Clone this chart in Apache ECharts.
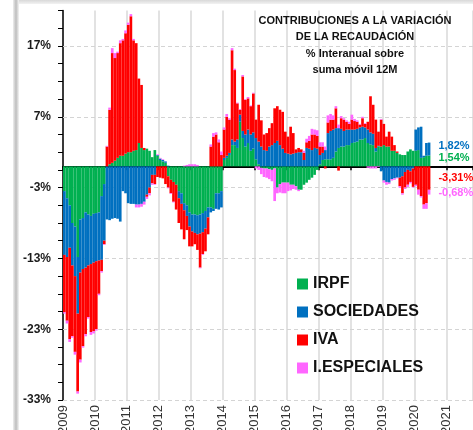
<!DOCTYPE html>
<html>
<head>
<meta charset="utf-8">
<title>Contribuciones a la variación de la recaudación</title>
<script src="https://cdn.jsdelivr.net/npm/echarts@6/dist/echarts.min.js"></script>
</head>
<body style="margin:0;padding:0;background:#fff;">
<div id="main" style="width:473px;height:430px;"></div>
<script>
// meses 2009-01 ... 2021-10 (el eje llega un poco más allá de 2021)
var months = [];
for (var y = 2009; y <= 2021; y++) {
    for (var m = 1; m <= 12; m++) months.push(y + '-' + (m < 10 ? '0' : '') + m);
}
months = months.slice(0, 154);

var names = ['IRPF', 'SOCIEDADES', 'IVA', 'I.ESPECIALES'];
var colors = ['#00B050', '#0070C0', '#FF0000', '#FF66FF'];
var yGrid = [-33, -23, -13, -3, 7, 17];

// contribuciones en puntos porcentuales, enero 2009 - junio 2020
var irpf = [
    -3.5, -4.5, -5.5, -8.0, -8.5, -12.8, -7.5, -7.3, -6.5, -6.8, -7.0, -6.7,
    -6.6, -6.5, -4.2, -2.5, 0.0, 0.3, 0.5, 0.8, 1.2, 1.5, 1.5, 1.8,
    2.0, 2.0, 2.2, 2.3, 3.3, 2.6, 2.3, 2.5, 2.2, 1.3, 2.3, 1.5,
    0.9, 0.7, 0.5, -1.4, -1.9, -2.2, -2.6, -3.5, -3.8, -5.2, -5.5, -6.5,
    -6.8, -6.8, -6.9, -6.8, -6.6, -6.3, -5.8, -5.8, -6.0, -3.8, -3.8, -3.5,
    0.9, 1.2, 1.6, 3.0, 3.0, 2.6, 6.3, 4.0, 2.8, 3.3, 2.2, 2.5,
    1.0, 0.3, -0.2, -0.3, -0.3, -0.4, -0.5, -0.3, -3.0, -2.5, -2.3, -2.3,
    -2.3, -2.6, -2.6, -2.8, -3.3, -3.3, -2.6, -2.3, -1.9, -1.6, -1.2, -0.5,
    0.3, 0.9, 1.0, 1.0, 1.0, 1.2, 2.1, 2.6, 2.8, 2.8, 3.0, 3.0,
    3.3, 3.4, 3.5, 3.8, 3.8, 4.0, 3.3, 3.1, 3.0, 2.1, 2.8, 2.8,
    3.0, 2.8, 2.8, 2.2, 2.2, 1.9, 1.7, 1.6, 1.6, 2.1, 2.4, 2.2,
    2.2, 2.3, 1.2, 1.3, 1.5, 1.54
];
var sociedades = [
    -9.0, -8.3, -6.0, -6.0, -7.0, -8.0, -7.5, -7.2, -7.8, -7.2, -6.8, -6.9,
    -6.8, -6.8, -9.0, -8.0, -7.5, -7.6, -7.4, -7.3, -7.4, -7.8, -3.5, -3.8,
    -5.2, -5.3, -5.3, -5.4, -5.4, -5.3, -5.0, -4.0, -3.0, -1.2, -1.2, 0.1,
    0.2, 0.2, 0.2, 0.1, 0.0, 0.0, 0.0, -1.0, -1.5, -1.0, -1.5, -2.0,
    -2.4, -2.6, -2.7, -2.7, -2.7, -2.5, -1.4, -0.7, -0.3, -2.2, -2.3, -2.3,
    0.3, 0.3, 0.3, 0.8, 0.5, 1.2, 1.0, 1.0, 1.7, 1.9, 2.3, 2.3,
    3.0, 3.2, 2.8, 2.3, 2.2, 2.8, 3.0, 3.3, 3.6, 3.0, 2.5, 1.9,
    1.8, 1.7, 1.8, 1.9, 2.0, 2.0, 0.9, 2.6, 2.5, 2.3, 2.6, 2.5,
    1.3, 1.0, 1.3, 3.7, 4.0, 4.0, 3.3, 2.8, 2.5, 2.2, 2.2, 2.2,
    1.9, 1.8, 1.8, 1.7, 1.8, 1.5, 1.9, 1.7, 1.6, 0.5, 0.1, -0.7,
    -2.0, -2.2, -2.3, -1.8, -1.7, -1.6, -1.6, -1.4, -0.8, -0.5, -0.7, -0.3,
    3.0, 3.2, 4.4, 0.2, 1.8, 1.82
];
var iva = [
    -8.1, -9.0, -12.9, -10.0, -10.7, -11.0, -12.3, -10.9, -9.4, -7.3, -9.6, -9.7,
    -9.6, -4.7, -1.6, -0.5, 2.8, 7.7, 15.5, 14.5, 14.8, 15.9, 16.3, 17.0,
    18.0, 19.2, 15.6, 15.1, 9.1, 8.9, 0.3, -0.3, -0.8, -1.2, -1.3, -1.5,
    -1.6, -1.7, -2.5, -1.6, -1.9, -2.8, -3.5, -3.5, -3.6, -4.1, -2.0, -2.8,
    -2.1, -1.6, -2.2, -4.8, -3.1, -3.2, -2.4, 2.8, 4.2, 4.5, 3.4, 1.6,
    4.0, 5.5, 4.7, 12.6, 10.1, 5.1, 0.7, 7.7, 4.9, 4.4, 4.0, 5.5,
    2.6, 5.2, 3.7, 2.2, 2.5, 2.6, 3.1, 4.9, 4.9, 5.0, 5.2, 3.0,
    2.4, 3.9, 2.9, 0.5, 0.6, 0.4, 1.0, 0.8, 1.1, 2.2, 1.9, 1.8,
    1.2, 0.9, -0.3, 1.5, 1.6, 1.4, 2.8, -0.6, 1.5, 1.6, 1.1, 0.8,
    1.4, 1.2, 1.0, 0.4, 1.2, 0.5, 1.1, 5.1, 4.1, 4.0, 2.0, 3.8,
    3.0, 1.4, 2.1, 2.0, 0.8, 0.2, -1.2, -2.4, -2.2, -2.1, -1.5, -2.6,
    -2.6, -3.3, -4.2, -5.4, -5.2, -3.31
];
var especiales = [
    -0.2, -0.4, -0.4, -0.2, -0.4, -0.3, -0.4, -0.2, -0.3, -0.2, -0.4, -0.3,
    -0.2, -0.2, -0.2, -0.1, 0.1, 0.3, 0.7, 0.7, 0.2, 0.4, 0.2, 0.4,
    0.3, 0.3, 0.2, -0.4, -0.4, -0.4, -0.4, -0.3, -0.3, -0.2, -0.1, 0.1,
    0.1, 0.1, 0.0, -0.1, -0.1, -0.1, 0.0, 0.0, 0.0, 0.1, 0.2, 0.3,
    0.3, 0.3, 0.2, -0.1, -0.1, 0.0, 0.0, 0.3, 0.5, 0.3, 0.4, 0.5,
    0.3, 0.4, 0.2, 0.3, 0.2, 0.1, 0.1, 0.2, 0.1, 0.2, 0.1, 0.1,
    -0.3, -0.5, -0.9, -1.2, -1.3, -1.4, -1.6, -4.6, -0.8, -1.2, -1.5, -1.5,
    -1.2, -0.8, -0.6, -0.5, -0.2, 0.0, 0.3, 0.5, 0.7, 0.8, 0.7, 0.8,
    0.6, 0.6, 0.5, 1.0, 0.8, 0.6, 0.3, 0.5, 0.3, 0.2, 0.2, 0.3,
    0.7, 0.3, 0.2, 0.1, 0.2, 0.1, -0.2, -0.3, -0.3, -0.3, -0.1, 0.1,
    -0.3, -0.4, -0.2, -0.2, -0.2, -0.1, -0.2, -0.2, -0.2, -0.3, -0.2, -0.1,
    -0.2, -0.7, -0.2, -0.6, -0.8, -0.68
];
var seriesData = [irpf, sociedades, iva, especiales];
var labelDy = [-3, -3, 0, 1];

var FONT = 'Liberation Sans, Arial, sans-serif';

// etiqueta sólo en el último dato (formato español con coma)
function withLastLabel(arr, k) {
    return arr.map(function (v, i) {
        if (i !== arr.length - 1) return v;
        return {
            value: v,
            label: {
                show: true, position: 'right', distance: 8, offset: [0, labelDy[k]],
                color: colors[k], fontSize: 11, fontWeight: 'bold', fontFamily: FONT,
                formatter: function (p) { return p.value.toFixed(2).replace('.', ',') + '%'; }
            }
        };
    });
}

var series = names.map(function (name, k) {
    var s = {
        name: name,
        type: 'bar',
        stack: 'total',
        xAxisIndex: 1,
        barCategoryGap: '0%',
        itemStyle: { color: colors[k] },
        emphasis: { disabled: true },
        data: withLastLabel(seriesData[k], k)
    };
    if (k === 0) {
        s.markLine = {
            silent: true, symbol: 'none', z: 1,
            label: { show: false },
            lineStyle: { color: '#d4d4d4', type: [4, 3], width: 1 },
            data: yGrid.map(function (v) { return { yAxis: v }; })
        };
    }
    return s;
});

var myChart = echarts.init(document.getElementById('main'));

var option = {
    backgroundColor: '#fff',
    animation: false,
    textStyle: { fontFamily: FONT },
    title: {
        text: 'CONTRIBUCIONES A LA VARIACIÓN\nDE LA RECAUDACIÓN\n% Interanual sobre\nsuma móvil 12M',
        left: 350, top: 8, textAlign: 'center',
        textStyle: { fontSize: 11, fontWeight: 'bold', color: '#111', lineHeight: 16.3, fontFamily: FONT }
    },
    legend: {
        orient: 'vertical', left: 292, top: 271,
        icon: 'rect', itemWidth: 11, itemHeight: 11, itemGap: 12,
        selectedMode: false,
        textStyle: { fontSize: 16, fontWeight: 'bold', color: '#111', lineHeight: 16, fontFamily: FONT },
        data: names
    },
    graphic: [
        {
            type: 'rect', left: 13, top: 0, z: -10,
            shape: { width: 460, height: 4 },
            style: { fill: new echarts.graphic.LinearGradient(0, 0, 0, 1, [
                { offset: 0, color: '#d8d8d8' }, { offset: 1, color: '#f2f2f2' }]) }
        },
        {
            type: 'rect', left: 13, top: 0, z: -10,
            shape: { width: 6, height: 430 },
            style: { fill: new echarts.graphic.LinearGradient(0, 0, 1, 0, [
                { offset: 0, color: '#eeeeee' }, { offset: 0.5, color: '#bdbdbd' }, { offset: 1, color: '#f4f4f4' }]) }
        }
    ],
    grid: { left: 63, right: 0, top: 10.6, bottom: 30, containLabel: false, outerBoundsMode: 'none' },
    xAxis: [
        {
            type: 'value',
            position: 'bottom',
            min: 2009, max: 2009 + months.length / 12, interval: 1,
            axisLine: { show: false, onZero: false },
            axisTick: { show: false },
            splitLine: { show: true, lineStyle: { color: '#d9d9d9', width: 1.5 } },
            axisLabel: {
                rotate: 90, margin: 5, fontSize: 13, color: '#333', fontFamily: FONT,
                formatter: function (v) {
                    return Math.abs(v - Math.round(v)) < 1e-6 && v < 2021.5 ? String(Math.round(v)) : '';
                }
            }
        },
        {
            type: 'category',
            position: 'top',
            data: months,
            axisLine: { show: true, onZero: true, lineStyle: { color: '#000', width: 2 } },
            axisTick: {
                show: true, inside: true, length: 4,
                interval: function (i) { return i % 12 === 0; },
                lineStyle: { color: '#000', width: 1.5 }
            },
            axisLabel: { show: false },
            splitLine: { show: false }
        }
    ],
    yAxis: {
        type: 'value',
        min: -33, max: 22, interval: 2.5,
        axisLine: { show: true, lineStyle: { color: '#000', width: 1.5 } },
        axisTick: { show: true, length: 5, lineStyle: { color: '#000', width: 1 } },
        splitLine: { show: false },
        axisLabel: {
            margin: 12, fontSize: 12, fontWeight: 'bold', color: '#1a1a1a', fontFamily: FONT,
            formatter: function (v) {
                var r = Math.round(v * 10) / 10;
                return yGrid.indexOf(r) >= 0 ? r + '%' : '';
            }
        }
    },
    series: series
};

myChart.setOption(option);
</script>
</body>
</html>
